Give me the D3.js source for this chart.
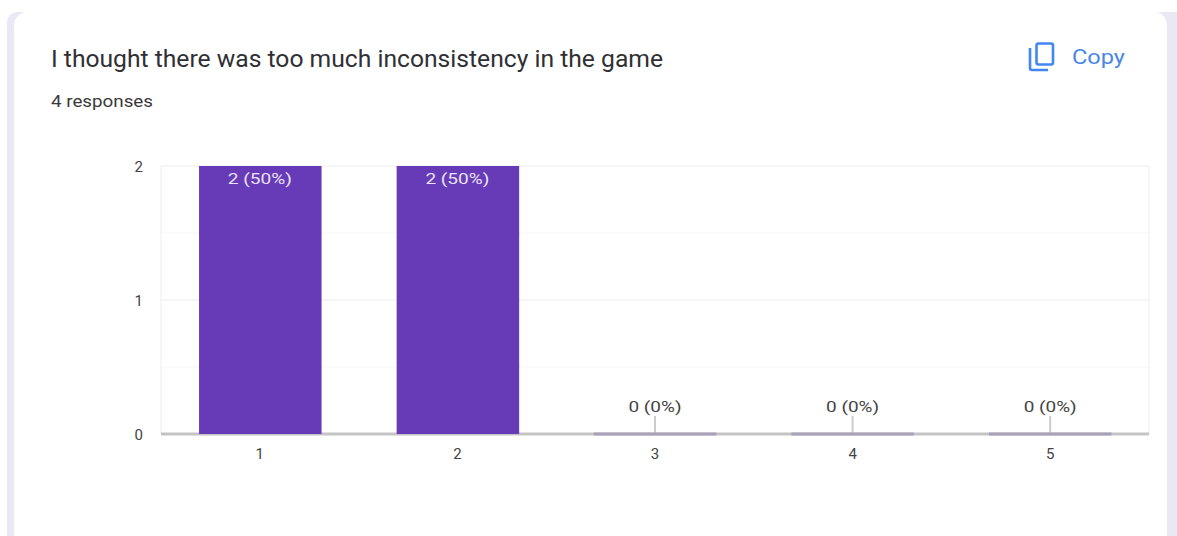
<!DOCTYPE html>
<html><head><meta charset="utf-8">
<script src="https://cdn.jsdelivr.net/npm/d3@7/dist/d3.min.js"></script>
<style>html,body{margin:0;background:#fff;overflow:hidden}svg{display:block}text{font-family:Roboto,sans-serif}</style>
</head><body><svg id="c" width="1177" height="536"></svg>
<script>
const categories = ["1","2","3","4","5"];
const counts = [2,2,0,0,0];
const valueLabels = ["2 (50%)","2 (50%)","0 (0%)","0 (0%)","0 (0%)"];
const yTicks = [0,1,2];
const yMinorTicks = [0.5,1.5];
const title = "I thought there was too much inconsistency in the game";
const subtitle = "4 responses";
const copyLabel = "Copy";

const svg = d3.select("#c");
// page background and card
svg.append("path").attr("d","M7 536V22a10 10 0 0 1 10-10H1177V536Z").attr("fill","#ebe8f5");
svg.append("path").attr("d","M14 536V26a14 14 0 0 1 12-14H1155a12 14 0 0 1 12 14V536Z").attr("fill","#fff");

svg.append("text").attr("x",51).attr("y",67).attr("font-size",23).attr("fill","#303034").attr("textLength",612).attr("lengthAdjust","spacingAndGlyphs").text(title);
svg.append("text").attr("x",51).attr("y",107).attr("font-size",16).attr("fill","#3a3a3a").attr("textLength",102).attr("lengthAdjust","spacingAndGlyphs").text(subtitle);

// copy icon
const ic = svg.append("g").attr("fill","none").attr("stroke","#4285f4").attr("stroke-width",2.6);
ic.append("rect").attr("x",1036.5).attr("y",43.5).attr("width",16.5).attr("height",21).attr("rx",2);
ic.append("path").attr("d","M1030 48V68a2 2 0 0 0 2 2H1048");
svg.append("text").attr("x",1072).attr("y",64).attr("font-size",21).attr("font-family","Lato,sans-serif").attr("fill","#4a86e8").attr("textLength",53).attr("lengthAdjust","spacingAndGlyphs").text(copyLabel);

const m = {l:161,r:1149,t:166,b:434};
const x = d3.scaleBand().domain(categories).range([m.l,m.r]).paddingInner(0.38).paddingOuter(0.19);
const y = d3.scaleLinear().domain([0,2]).range([m.b,m.t]);

const grid = svg.append("g").attr("stroke","#f3f3f3").attr("stroke-width",1.5);
yTicks.concat(yMinorTicks).forEach(v=>{ if(v!==0) grid.append("line").attr("x1",m.l).attr("x2",m.r).attr("y1",y(v)).attr("y2",y(v)).attr("stroke",yMinorTicks.includes(v)?"#f8f8f8":"#f3f3f3"); });
grid.append("line").attr("x1",m.l).attr("x2",m.l).attr("y1",m.t).attr("y2",m.b);
grid.append("line").attr("x1",m.r).attr("x2",m.r).attr("y1",m.t).attr("y2",m.b);

const yAxis = d3.axisLeft(y).tickValues(yTicks).tickFormat(d3.format("d")).tickSize(0).tickPadding(18);
const ya = svg.append("g").attr("transform",`translate(${m.l},0)`).call(yAxis);
ya.select(".domain").remove();
ya.selectAll("text").attr("font-size",15).attr("fill","#444").attr("dy","0.36em");

// leader lines for zero values
svg.selectAll("line.lead").data(categories.filter((c,i)=>counts[i]===0)).join("line").attr("class","lead")
  .attr("x1",c=>x(c)+x.bandwidth()/2).attr("x2",c=>x(c)+x.bandwidth()/2)
  .attr("y1",m.b-18).attr("y2",m.b).attr("stroke","#ccc").attr("stroke-width",2);

svg.append("line").attr("x1",m.l).attr("x2",m.r).attr("y1",m.b).attr("y2",m.b).attr("stroke","#c4c4c4").attr("stroke-width",3);

const ix = categories.map((c,i)=>i);
svg.selectAll("rect.bar").data(ix).join("rect").attr("class","bar")
  .attr("x",i=>x(categories[i])+0.5).attr("width",x.bandwidth())
  .attr("y",i=>y(counts[i])).attr("height",i=>Math.max(y(0)-y(counts[i]),0)).attr("fill","#673ab7");
svg.selectAll("rect.zero").data(ix.filter(i=>counts[i]===0)).join("rect").attr("class","zero")
  .attr("x",i=>x(categories[i])).attr("width",x.bandwidth()).attr("y",m.b-1.5).attr("height",3).attr("fill","#a8a2b8");

svg.selectAll("text.val").data(ix).join("text").attr("class","val")
  .attr("x",i=>x(categories[i])+x.bandwidth()/2)
  .attr("y",i=>counts[i]>0?y(counts[i])+18:m.b-22)
  .attr("text-anchor","middle").attr("font-size",15.5)
  .attr("textLength",i=>counts[i]>0?64:53).attr("lengthAdjust","spacingAndGlyphs")
  .attr("fill",i=>counts[i]>0?"#e9e3f6":"#444").text(i=>valueLabels[i]);

const xAxis = d3.axisBottom(x).tickSize(0).tickPadding(14);
const xa = svg.append("g").attr("transform",`translate(0,${m.b})`).call(xAxis);
xa.select(".domain").remove();
xa.selectAll("text").attr("font-size",15).attr("fill","#444");
</script></body></html>
